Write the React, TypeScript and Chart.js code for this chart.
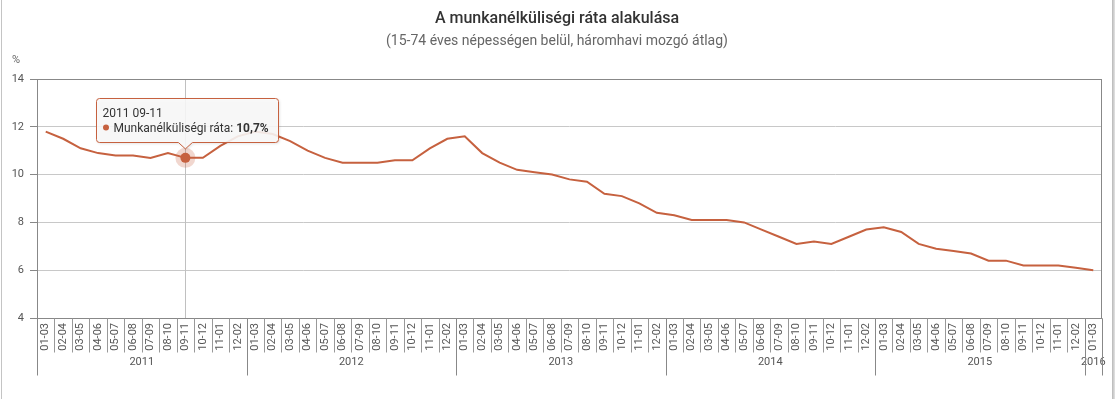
import React, { useEffect, useRef } from 'react';
import { Chart, registerables } from 'chart.js';

Chart.register(...registerables);

// ---- data ----
const monthLabels = ['01-03', '02-04', '03-05', '04-06', '05-07', '06-08', '07-09', '08-10', '09-11', '10-12', '11-01', '12-02'];
const years = ['2011', '2012', '2013', '2014', '2015', '2016'];
const yearCounts = [12, 12, 12, 12, 12, 1];
const rates2011 = [11.8, 11.5, 11.1, 10.9, 10.8, 10.8, 10.7, 10.9, 10.7, 10.7, 11.2, 11.6];
const rates2012 = [11.8, 11.7, 11.4, 11.0, 10.7, 10.5, 10.5, 10.5, 10.6, 10.6, 11.1, 11.5];
const rates2013 = [11.6, 10.9, 10.5, 10.2, 10.1, 10.0, 9.8, 9.7, 9.2, 9.1, 8.8, 8.4];
const rates2014 = [8.3, 8.1, 8.1, 8.1, 8.0, 7.7, 7.4, 7.1, 7.2, 7.1, 7.4, 7.7];
const rates2015 = [7.8, 7.6, 7.1, 6.9, 6.8, 6.7, 6.4, 6.4, 6.2, 6.2, 6.2, 6.1];
const rates2016 = [6.0];
const yMin = 4;
const yMax = 14;
const yStep = 2;
const seriesName = 'Munkanélküliségi ráta';
const titleText = 'A munkanélküliségi ráta alakulása';
const subtitleText = '(15-74 éves népességen belül, háromhavi mozgó átlag)';
const unitLabel = '%';
const hoverIndex = 8;

const rates: number[] = [...rates2011, ...rates2012, ...rates2013, ...rates2014, ...rates2015, ...rates2016];
const categories: string[] = [];
const categoryYears: string[] = [];
years.forEach((yr, k) => {
  for (let m = 0; m < yearCounts[k]; m++) {
    categories.push(monthLabels[m]);
    categoryYears.push(yr);
  }
});

const LINE = '#c6613f';
const FONT = 'Roboto, "Liberation Sans", Arial, sans-serif';

function boundaryX(scale: any, i: number): number {
  const n = categories.length;
  const w = (scale.right - scale.left) / n;
  return scale.left + w * i;
}

const decorPlugin = {
  id: 'decor',
  beforeDatasetsDraw(chart: any) {
    const { ctx, chartArea } = chart;
    const meta = chart.getDatasetMeta(0);
    const pt = meta.data[hoverIndex];
    ctx.save();
    ctx.strokeStyle = '#c0c0c0';
    ctx.lineWidth = 1;
    const cx = Math.round(pt.x) + 0.5;
    ctx.beginPath();
    ctx.moveTo(cx, chartArea.top);
    ctx.lineTo(cx, chartArea.bottom);
    ctx.stroke();
    ctx.restore();
  },
  afterDraw(chart: any) {
    const { ctx, chartArea } = chart;
    const xs = chart.scales.x;
    ctx.save();
    // frame
    ctx.strokeStyle = '#888';
    ctx.lineWidth = 1;
    ctx.strokeRect(Math.round(chartArea.left) + 0.5, Math.round(chartArea.top) + 0.5,
      Math.round(chartArea.right - chartArea.left) - 1, Math.round(chartArea.bottom - chartArea.top));

    // category separators
    const bottom = Math.round(chartArea.bottom) + 0.5;
    ctx.strokeStyle = '#999';
    ctx.beginPath();
    for (let i = 0; i <= categories.length; i++) {
      const x = Math.round(boundaryX(xs, i)) + 0.5;
      ctx.moveTo(x, bottom);
      ctx.lineTo(x, bottom + 34);
    }
    ctx.stroke();

    // year groups
    ctx.strokeStyle = '#888';
    ctx.fillStyle = '#555';
    ctx.font = `11px ${FONT}`;
    ctx.textAlign = 'center';
    ctx.textBaseline = 'middle';
    let start = 0;
    ctx.beginPath();
    const x0 = Math.round(boundaryX(xs, 0)) + 0.5;
    ctx.moveTo(x0, bottom);
    ctx.lineTo(x0, bottom + 57);
    years.forEach((yr, k) => {
      const end = start + yearCounts[k];
      const xe = Math.round(boundaryX(xs, end)) + 0.5;
      ctx.moveTo(xe, bottom);
      ctx.lineTo(xe, bottom + 57);
      const xm = (boundaryX(xs, start) + boundaryX(xs, end)) / 2;
      ctx.fillText(yr, xm, bottom + 44);
      start = end;
    });
    ctx.stroke();

    // titles
    ctx.fillStyle = '#333';
    ctx.font = `500 16px ${FONT}`;
    ctx.textBaseline = 'alphabetic';
    ctx.fillText(titleText, 557, 23);
    ctx.fillStyle = '#666';
    ctx.font = `14px ${FONT}`;
    ctx.fillText(subtitleText, 557, 45);
    ctx.font = `11px ${FONT}`;
    ctx.fillText(unitLabel, 16, 63);

    // hover halo + marker
    const meta = chart.getDatasetMeta(0);
    const pt = meta.data[hoverIndex];
    ctx.fillStyle = 'rgba(198,97,63,0.25)';
    ctx.beginPath();
    ctx.arc(pt.x, pt.y, 10, 0, Math.PI * 2);
    ctx.fill();
    ctx.fillStyle = LINE;
    ctx.beginPath();
    ctx.arc(pt.x, pt.y, 5, 0, Math.PI * 2);
    ctx.fill();

    // tooltip
    const title = `${categoryYears[hoverIndex]} ${categories[hoverIndex]}`;
    const label = `${seriesName}: `;
    const valueText = `${rates[hoverIndex].toFixed(1).replace('.', ',')}%`;
    ctx.font = `12px ${FONT}`;
    const wLabel = ctx.measureText(label).width;
    ctx.font = `bold 12px ${FONT}`;
    const wVal = ctx.measureText(valueText).width;
    const contentW = 11 + wLabel + wVal;
    const boxW = Math.round(contentW + 16);
    const boxH = 44;
    const bx = Math.round(pt.x - boxW / 2 + 2) + 0.5;
    const by = 98.5;
    const caretX = pt.x;
    const caretTip = pt.y - 9;

    const drawShape = () => {
      const r = 3;
      ctx.beginPath();
      ctx.moveTo(bx + r, by);
      ctx.lineTo(bx + boxW - r, by);
      ctx.arcTo(bx + boxW, by, bx + boxW, by + r, r);
      ctx.lineTo(bx + boxW, by + boxH - r);
      ctx.arcTo(bx + boxW, by + boxH, bx + boxW - r, by + boxH, r);
      ctx.lineTo(caretX + 7, by + boxH);
      ctx.lineTo(caretX, caretTip);
      ctx.lineTo(caretX - 7, by + boxH);
      ctx.lineTo(bx + r, by + boxH);
      ctx.arcTo(bx, by + boxH, bx, by + boxH - r, r);
      ctx.lineTo(bx, by + r);
      ctx.arcTo(bx, by, bx + r, by, r);
      ctx.closePath();
    };
    ctx.save();
    ctx.shadowColor = 'rgba(0,0,0,0.15)';
    ctx.shadowBlur = 3;
    ctx.shadowOffsetX = 1;
    ctx.shadowOffsetY = 1;
    drawShape();
    ctx.fillStyle = 'rgba(250,250,250,0.88)';
    ctx.fill();
    ctx.restore();
    drawShape();
    ctx.strokeStyle = LINE;
    ctx.lineWidth = 1;
    ctx.stroke();

    ctx.textAlign = 'left';
    ctx.textBaseline = 'alphabetic';
    ctx.fillStyle = '#333';
    ctx.font = `12px ${FONT}`;
    ctx.fillText(title, bx + 6, by + 18);
    ctx.fillStyle = LINE;
    ctx.beginPath();
    ctx.arc(bx + 9.5, by + 29, 3, 0, Math.PI * 2);
    ctx.fill();
    ctx.fillStyle = '#333';
    ctx.fillText(label, bx + 17, by + 33);
    ctx.font = `bold 12px ${FONT}`;
    ctx.fillText(valueText, bx + 17 + wLabel, by + 33);
    ctx.restore();
  },
};

export default function App() {
  const canvasRef = useRef<HTMLCanvasElement | null>(null);

  useEffect(() => {
    document.body.style.margin = '0';
    const canvas = canvasRef.current;
    if (!canvas) return;
    const chart = new Chart(canvas, {
      type: 'line',
      data: {
        labels: categories,
        datasets: [
          {
            label: seriesName,
            data: rates,
            borderColor: LINE,
            backgroundColor: LINE,
            borderWidth: 2,
            pointRadius: 0,
            pointHoverRadius: 0,
            tension: 0,
            fill: false,
          },
        ],
      },
      options: {
        animation: false,
        responsive: false,
        maintainAspectRatio: false,
        events: [],
        layout: { padding: { left: 0, right: 13, top: 79, bottom: 0 } },
        plugins: {
          legend: { display: false },
          tooltip: { enabled: false },
          title: { display: false },
        },
        scales: {
          x: {
            type: 'category',
            offset: true,
            grid: { display: false, drawTicks: false },
            border: { display: false },
            ticks: {
              autoSkip: false,
              minRotation: 90,
              maxRotation: 90,
              padding: 5,
              color: '#555',
              font: { family: FONT, size: 11 },
            },
            afterFit: (s: any) => {
              s.height = 81;
            },
          },
          y: {
            min: yMin,
            max: yMax,
            ticks: {
              stepSize: yStep,
              padding: 6,
              color: '#555',
              font: { family: FONT, size: 11 },
            },
            grid: {
              color: '#c8c8c8',
              tickLength: 7,
              tickColor: '#888',
              lineWidth: 1,
            },
            border: { display: false },
            afterFit: (s: any) => {
              s.width = 37;
            },
          },
        },
      },
      plugins: [decorPlugin],
    } as any);
    return () => chart.destroy();
  }, []);

  return (
    <div style={{ position: 'relative', width: 1115, height: 399, background: '#fff', overflow: 'hidden' }}>
      <canvas ref={canvasRef} width={1115} height={399} style={{ display: 'block', width: 1115, height: 399 }} />
      <div style={{ position: 'absolute', left: 1, top: 0, width: 1, height: 399, background: '#c4c4c4' }} />
      <div style={{ position: 'absolute', left: 1112, top: 0, width: 3, height: 399, background: 'linear-gradient(to right, #b8b8b8, #e4e4e4)' }} />
    </div>
  );
}
